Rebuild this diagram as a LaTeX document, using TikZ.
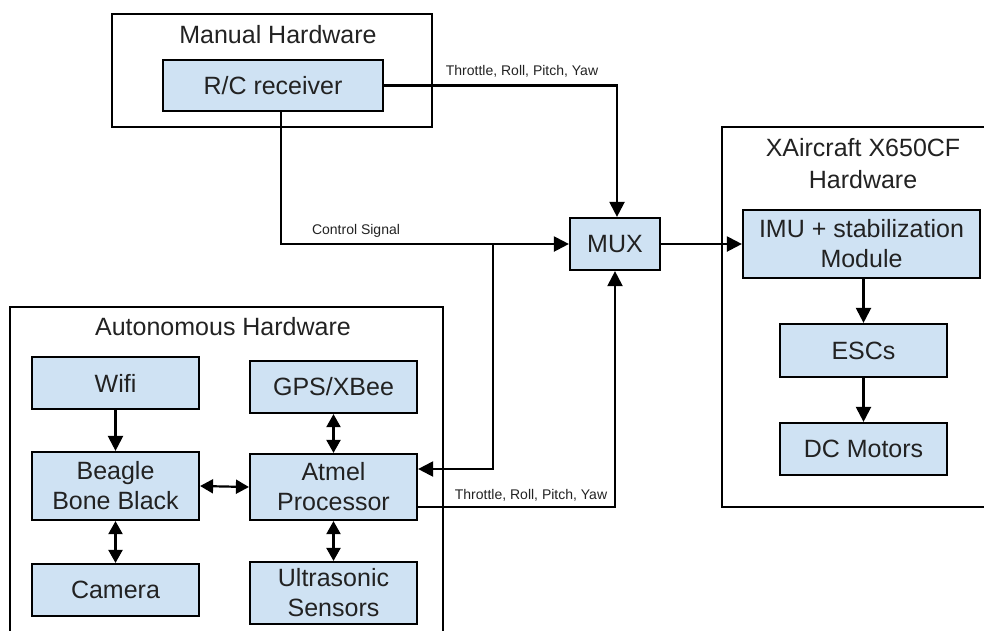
\documentclass[tikz,border=0pt]{standalone}
\usepackage{fontspec}
\setmainfont{Liberation Sans}
\usetikzlibrary{arrows.meta}
\definecolor{boxfill}{HTML}{CFE2F3}
\definecolor{txt}{HTML}{222222}
\begin{document}
\begin{tikzpicture}[x=1pt,y=-1pt,
  blk/.style={draw=black,line width=2.2pt,fill=boxfill,text=txt,inner sep=0pt,align=center,
    font=\fontsize{25}{30}\selectfont},
  grp/.style={draw=black,line width=2pt,inner sep=0pt},
  ttl/.style={text=txt,align=center,inner sep=0pt,font=\fontsize{25}{32}\selectfont},
  lbl/.style={text=txt,inner sep=0pt,font=\fontsize{14}{16}\selectfont},
  con/.style={line width=2.2pt,draw=black},
  arr/.style={con,-{Triangle[length=15pt,width=15pt]}},
  darr/.style={con,{Triangle[length=13pt,width=14pt]}-{Triangle[length=13pt,width=14pt]}}]
\useasboundingbox (0,0) rectangle (984,630);
\clip (0,0) rectangle (984,630);
% group boxes
\node[grp,minimum width=320pt,minimum height=113pt] (man) at (272,70.5) {};
\node[grp,minimum width=290pt,minimum height=380pt] (xac) at (867,317) {};
\node[grp,minimum width=433pt,minimum height=340pt] (aut) at (226.5,477) {};
\node[ttl] (mant) at (278,35) {Manual Hardware};
\node[ttl] (xact) at (863,164) {XAircraft X650CF\\Hardware};
\node[ttl] (autt) at (223,327) {Autonomous Hardware};
% blocks
\node[blk,minimum width=220pt,minimum height=51pt] (rc) at (273,85.5) {R/C receiver};
\node[blk,minimum width=90pt,minimum height=52pt] (mux) at (615,244) {MUX};
\node[blk,minimum width=237pt,minimum height=68pt] (imu) at (861.5,244) {IMU + stabilization\\Module};
\node[blk,minimum width=167pt,minimum height=53pt] (esc) at (863.5,350.5) {ESCs};
\node[blk,minimum width=167pt,minimum height=52pt] (dc) at (863.5,449) {DC Motors};
\node[blk,minimum width=167pt,minimum height=52pt] (wifi) at (115.5,383) {Wifi};
\node[blk,minimum width=167pt,minimum height=52pt] (gps) at (333.5,387) {GPS/XBee};
\node[blk,minimum width=167pt,minimum height=68pt] (bb) at (115.5,486) {Beagle\\Bone Black};
\node[blk,minimum width=167pt,minimum height=66pt] (atm) at (333.5,487) {Atmel\\Processor};
\node[blk,minimum width=167pt,minimum height=52pt] (cam) at (115.5,590) {Camera};
\node[blk,minimum width=167pt,minimum height=62pt] (us) at (333.5,593) {Ultrasonic\\Sensors};
% connectors
\coordinate (c1) at (617,85.5);
\draw[arr] (rc.east) -- (c1) -- (c1 |- mux.north);
\node[lbl,anchor=south] (l1) at (522,77) {Throttle, Roll, Pitch, Yaw};
\coordinate (c2) at (281,111);
\coordinate (c3) at (281,244);
\draw[arr] (c2) -- (c3) -- (mux.west);
\node[lbl,anchor=south] (l2) at (356,238) {Control Signal};
\coordinate (c4) at (493,244);
\coordinate (c5) at (493,469);
\draw[arr] (c4) -- (c5) -- (atm.east |- c5);
\coordinate (c6) at (417,507);
\coordinate (c7) at (615,507);
\draw[arr] (c6) -- (c7) -- (mux.south);
\node[lbl,anchor=south] (l3) at (531,501) {Throttle, Roll, Pitch, Yaw};
\draw[arr] (mux.east) -- (imu.west);
\draw[arr] (imu.south -| esc.north) -- (esc.north);
\draw[arr] (esc.south) -- (dc.north);
\draw[arr] (wifi.south) -- (bb.north);
\draw[darr] (bb.east) -- (atm.west);
\draw[darr] (gps.south) -- (atm.north);
\draw[darr] (bb.south) -- (cam.north);
\draw[darr] (atm.south) -- (us.north);
\end{tikzpicture}
\end{document}
